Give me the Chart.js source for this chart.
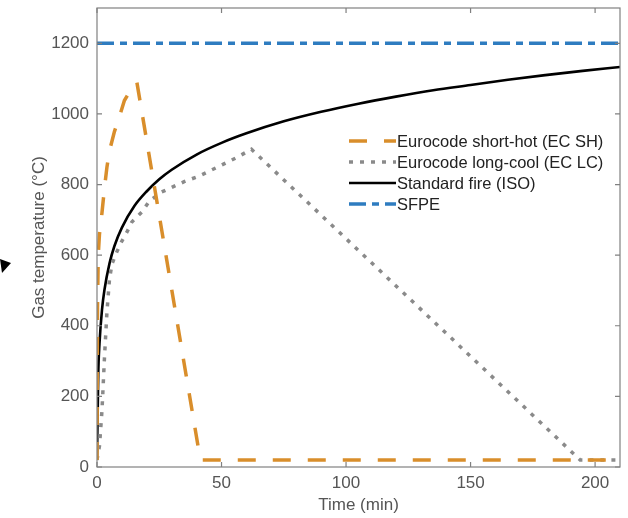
<!DOCTYPE html>
<html>
<head>
<meta charset="utf-8">
<script src="https://cdn.jsdelivr.net/npm/chart.js@4.4.1/dist/chart.umd.min.js"></script>
<style>
  html, body { margin: 0; padding: 0; background: #fff; }
  #wrap { position: relative; width: 628px; height: 518px; }
</style>
</head>
<body>
<div id="wrap"><canvas id="fire" width="628" height="518"></canvas></div>
<script>
/* Courbes de température des gaz */
const xTicks = [0, 50, 100, 150, 200];
const yTicks = [0, 200, 400, 600, 800, 1000, 1200];

const isoTime = [0, 0.5, 1, 2, 3, 5, 7, 10, 15, 20, 25, 30, 40, 50, 60, 75, 90, 105, 120, 135, 150, 165, 180, 195, 210];
const isoTemp = [20, 261, 349, 445, 502, 576, 626, 678, 739, 781, 815, 842, 885, 918, 945, 979, 1006, 1029, 1049, 1067, 1082, 1097, 1110, 1122, 1133];

const shTime = [0, 0.2, 0.5, 1, 2, 3, 4, 5, 7, 9, 11, 13, 16, 41.5, 210];
const shTemp = [20, 450, 600, 660, 720, 790, 850, 895, 950, 992, 1038, 1062, 1090, 20, 20];

const lcTime = [0, 1, 2, 3, 4, 5, 6, 8, 10, 12, 14, 18, 21, 26, 35, 41, 50, 56, 62, 194, 210];
const lcTemp = [20, 60, 160, 310, 440, 530, 575, 610, 640, 665, 694, 722, 753, 779, 808, 824, 855, 876, 900, 20, 20];

const sfpeTime = [0, 210];
const sfpeTemp = [1200, 1200];

const labels = ['Eurocode short-hot (EC SH)', 'Eurocode long-cool (EC LC)', 'Standard fire (ISO)', 'SFPE'];

const FONT = '"Liberation Sans", Arial, Helvetica, sans-serif';
const AXIS = '#808080';
const TXT = '#555555';

const pts = (t, v) => t.map((x, i) => ({ x, y: v[i] }));
const noPad = s => { s.paddingTop = 0; s.paddingBottom = 0; s.paddingLeft = 0; s.paddingRight = 0; };

/* Légende dessinée dans la zone du graphique + ticks intérieurs + flèche */
const overlay = {
  id: 'overlay',
  afterDraw(chart) {
    const { ctx, chartArea: a, scales } = chart;
    ctx.save();
    // cadre et ticks intérieurs
    ctx.strokeStyle = AXIS; ctx.lineWidth = 1.2; ctx.setLineDash([]);
    ctx.strokeRect(a.left, a.top, a.right - a.left, a.bottom - a.top);
    ctx.beginPath();
    xTicks.forEach(v => {
      const x = scales.x.getPixelForValue(v);
      ctx.moveTo(x, a.bottom); ctx.lineTo(x, a.bottom - 5);
      ctx.moveTo(x, a.top); ctx.lineTo(x, a.top + 5);
    });
    yTicks.forEach(v => {
      const y = scales.y.getPixelForValue(v);
      ctx.moveTo(a.left, y); ctx.lineTo(a.left + 5, y);
      ctx.moveTo(a.right, y); ctx.lineTo(a.right - 5, y);
    });
    ctx.stroke();

    // légende
    const lx = 349, sw = 47, y0 = 141, dy = 21;
    ctx.font = '16.5px ' + FONT;
    ctx.textBaseline = 'middle';
    chart.data.datasets.forEach((d, i) => {
      const y = y0 + i * dy;
      ctx.strokeStyle = d.borderColor; ctx.lineWidth = d.borderWidth;
      ctx.setLineDash(d.borderDash || []);
      ctx.beginPath(); ctx.moveTo(lx, y); ctx.lineTo(lx + sw, y); ctx.stroke();
      ctx.setLineDash([]);
      ctx.fillStyle = '#222';
      ctx.fillText(d.label, lx + sw + 1, y + 1);
    });

    // flèche en marge gauche
    ctx.fillStyle = '#000';
    ctx.beginPath(); ctx.moveTo(0, 259); ctx.lineTo(11, 263); ctx.lineTo(2, 273); ctx.closePath(); ctx.fill();
    ctx.restore();
  }
};

new Chart(document.getElementById('fire'), {
  type: 'line',
  data: {
    datasets: [
      { label: labels[0], data: pts(shTime, shTemp), borderColor: '#D98E2B', borderWidth: 3.5, borderDash: [18, 17] },
      { label: labels[1], data: pts(lcTime, lcTemp), borderColor: '#8a8a8a', borderWidth: 3.5, borderDash: [4, 7] },
      { label: labels[2], data: pts(isoTime, isoTemp), borderColor: '#000000', borderWidth: 2.6, cubicInterpolationMode: 'monotone' },
      { label: labels[3], data: pts(sfpeTime, sfpeTemp), borderColor: '#2E7CC0', borderWidth: 3.5, borderDash: [17, 6, 7, 6] },
    ].map(d => Object.assign({ pointRadius: 0, fill: false, tension: 0 }, d)),
  },
  options: {
    responsive: false,
    animation: false,
    events: [],
    layout: { padding: { left: 0, right: 8, top: 8, bottom: 0 } },
    plugins: { legend: { display: false }, tooltip: { enabled: false } },
    scales: {
      x: {
        type: 'linear', min: 0, max: 210,
        afterBuildTicks: s => { s.ticks = xTicks.map(v => ({ value: v })); },
        afterFit: s => { s.height = 51; noPad(s); },
        grid: { display: false, drawTicks: false },
        border: { display: false },
        ticks: { color: TXT, font: { family: FONT, size: 17 }, padding: 6, maxRotation: 0, callback: v => String(v) },
        title: { display: true, text: 'Time (min)', color: TXT, font: { family: FONT, size: 17 }, padding: { top: 0, bottom: 2 } },
      },
      y: {
        type: 'linear', min: 0, max: 1300,
        afterBuildTicks: s => { s.ticks = yTicks.map(v => ({ value: v })); },
        afterFit: s => { s.width = 97; noPad(s); },
        grid: { display: false, drawTicks: false },
        border: { display: false },
        ticks: { color: TXT, font: { family: FONT, size: 17 }, padding: 8, callback: v => String(v) },
        title: { display: true, text: 'Gas temperature (°C)', color: TXT, font: { family: FONT, size: 17 }, padding: { top: 29, bottom: 0 } },
      },
    },
  },
  plugins: [overlay],
});
</script>
</body>
</html>
